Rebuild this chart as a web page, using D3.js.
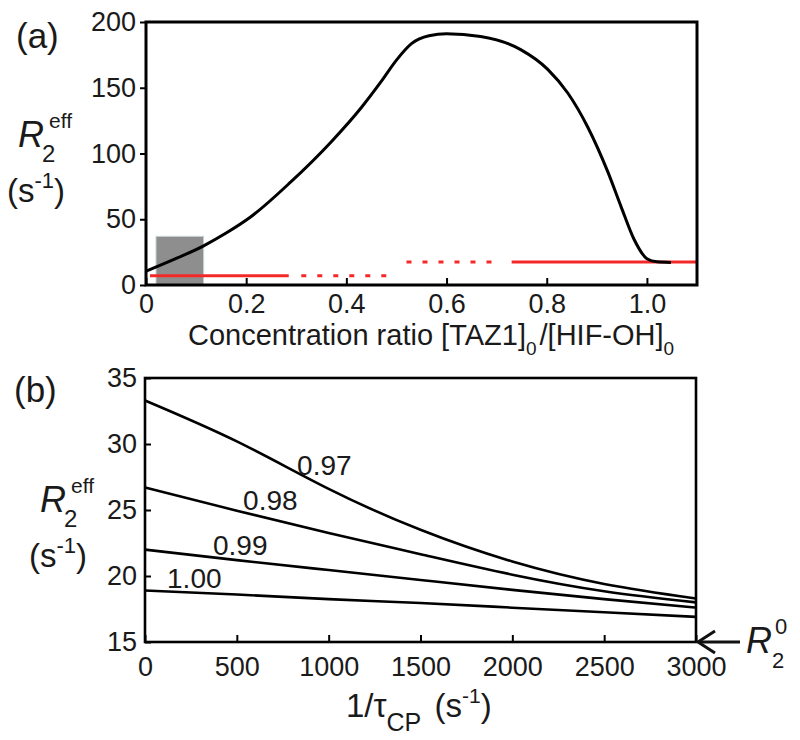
<!DOCTYPE html>
<html>
<head>
<meta charset="utf-8">
<script src="https://cdn.jsdelivr.net/npm/d3@7"></script>
<style>
  body { margin: 0; background: #fff; }
  svg text { font-family: "Liberation Sans", Arial, sans-serif; fill: #1a1a1a; }
</style>
</head>
<body>
<div id="chart"></div>
<script>
// panel (a): R2eff vs concentration ratio
const ratioX = [0.00, 0.05, 0.116, 0.16, 0.208, 0.288, 0.37, 0.43, 0.47, 0.50, 0.53, 0.565, 0.60, 0.668, 0.748, 0.802, 0.842, 0.882, 0.922, 0.948, 0.974, 1.0, 1.02, 1.048];
const ratioR2 = [10.5, 18.5, 30, 39.5, 51.5, 78, 109, 135, 155, 171, 183.5, 189.5, 191, 189, 179, 164, 146, 120, 86, 60, 35, 20, 17.6, 17.2];
const aTicksX = [0, 0.2, 0.4, 0.6, 0.8, 1.0];
const aTicksY = [0, 50, 100, 150, 200];
// shaded box and the red reference segments [x0, x1, y, dotted]
const shadeBox = { x0: 0.02, x1: 0.115, y0: 0, y1: 37 };
const redSegs = [
  [0.008, 0.285, 7, false],
  [0.31, 0.50, 7, true],
  [0.52, 0.71, 17.4, true],
  [0.73, 1.1, 17.4, false]
];

// panel (b): R2eff vs 1/tauCP for four ratios
const cpX = [0, 500, 1000, 1500, 2000, 2500, 3000];
const seriesNames = ["0.97", "0.98", "0.99", "1.00"];
const r097 = [33.3, 30.2, 26.6, 23.5, 21.1, 19.4, 18.3];
const r098 = [26.7, 24.95, 23.25, 21.65, 20.1, 18.85, 18.0];
const r099 = [22.0, 21.2, 20.45, 19.7, 18.95, 18.25, 17.6];
const r100 = [18.9, 18.6, 18.25, 17.95, 17.6, 17.25, 16.9];
// where each label sits (x, baseline y in data units)
const labelPos = [[828, 27.65], [534, 25.0], [370, 21.6], [120, 19.1]];
const bTicksX = [0, 500, 1000, 1500, 2000, 2500, 3000];
const bTicksY = [15, 20, 25, 30, 35];

const svg = d3.select("#chart").append("svg")
  .attr("width", 800)
  .attr("height", 740);

const fs = 27;

// ---------- panel (a) ----------
const xa = d3.scaleLinear().domain([0, 1.1]).range([146, 697]);
const ya = d3.scaleLinear().domain([0, 200]).range([285, 22]);

svg.append("rect")
  .attr("x", xa(shadeBox.x0)).attr("y", ya(shadeBox.y1))
  .attr("width", xa(shadeBox.x1) - xa(shadeBox.x0))
  .attr("height", ya(shadeBox.y0) - ya(shadeBox.y1))
  .attr("fill", "#8e8e8e")
  .attr("stroke", "#c4d2d4")
  .attr("stroke-width", 1);

redSegs.forEach(s => {
  svg.append("line")
    .attr("x1", xa(s[0])).attr("x2", xa(s[1]))
    .attr("y1", ya(s[2])).attr("y2", ya(s[2]))
    .attr("stroke", "#f52828")
    .attr("stroke-width", 3)
    .attr("stroke-dasharray", s[3] ? "5,11" : null);
});

const curveA = ratioX.map((x, i) => [x, ratioR2[i]]);
svg.append("path")
  .datum(curveA)
  .attr("fill", "none")
  .attr("stroke", "#000")
  .attr("stroke-width", 3)
  .attr("d", d3.line().x(d => xa(d[0])).y(d => ya(d[1])).curve(d3.curveMonotoneX));

// axes for (a)
const axA_x = svg.append("g")
  .attr("transform", `translate(0,${ya(0)})`)
  .call(d3.axisBottom(xa).tickValues(aTicksX).tickFormat(d => d === 0 ? "0" : d3.format(".1f")(d))
    .tickSize(-7).tickPadding(9));
const axA_y = svg.append("g")
  .attr("transform", `translate(${xa(0)},0)`)
  .call(d3.axisLeft(ya).tickValues(aTicksY).tickSize(6).tickPadding(4));

svg.append("rect")
  .attr("x", 146).attr("y", 22)
  .attr("width", 697 - 146).attr("height", 285 - 22)
  .attr("fill", "none").attr("stroke", "#000").attr("stroke-width", 3);

// ---------- panel (b) ----------
const xb = d3.scaleLinear().domain([0, 3000]).range([145, 696]);
const yb = d3.scaleLinear().domain([15, 35]).range([642, 378]);

const allB = [r097, r098, r099, r100];
const lineB = d3.line().x(d => xb(d[0])).y(d => yb(d[1])).curve(d3.curveNatural);
allB.forEach((vals, k) => {
  svg.append("path")
    .datum(cpX.map((x, i) => [x, vals[i]]))
    .attr("fill", "none")
    .attr("stroke", "#000")
    .attr("stroke-width", 2.6)
    .attr("d", lineB);
  svg.append("text")
    .attr("x", xb(labelPos[k][0]))
    .attr("y", yb(labelPos[k][1]))
    .style("font-size", "28px")
    .text(seriesNames[k]);
});

const axB_x = svg.append("g")
  .attr("transform", `translate(0,${yb(15)})`)
  .call(d3.axisBottom(xb).tickValues(bTicksX).tickFormat(d3.format("d")).tickSize(-7).tickPadding(15));
const axB_y = svg.append("g")
  .attr("transform", `translate(${xb(0)},0)`)
  .call(d3.axisLeft(yb).tickValues(bTicksY).tickSize(-6).tickPadding(8));

svg.append("rect")
  .attr("x", 145).attr("y", 378)
  .attr("width", 696 - 145).attr("height", 642 - 378)
  .attr("fill", "none").attr("stroke", "#000").attr("stroke-width", 2.6);

// style all axes
[axA_x, axA_y, axB_x, axB_y].forEach(g => {
  g.select(".domain").remove();
  g.selectAll(".tick line").attr("stroke", "#000").attr("stroke-width", 2);
  g.selectAll(".tick text")
    .style("font-family", '"Liberation Sans", Arial, sans-serif')
    .style("font-size", fs + "px")
    .attr("fill", "#1a1a1a");
});

// ---------- labels ----------
svg.append("text").attr("x", 16).attr("y", 48).style("font-size", "35px").text("(a)");
svg.append("text").attr("x", 14).attr("y", 402).style("font-size", "35px").text("(b)");

// R2eff y-axis labels
function r2Label(x, y) {
  const g = svg.append("g").attr("transform", `translate(${x},${y})`);
  g.append("text").attr("x", 0).attr("y", 0)
    .style("font-size", "36px").style("font-style", "italic").text("R");
  g.append("text").attr("x", 24).attr("y", 15)
    .style("font-size", "24px").text("2");
  g.append("text").attr("x", 31).attr("y", -19)
    .style("font-size", "21px").text("eff");
  const u = g.append("text").attr("x", -11).attr("y", 55).style("font-size", "33px");
  u.append("tspan").text("(s");
  u.append("tspan").attr("dy", -14).style("font-size", "22px").text("-1");
  u.append("tspan").attr("dy", 14).text(")");
}
r2Label(18, 147);
r2Label(40, 512);

// x label (a)
const xlA = svg.append("text").attr("x", 188).attr("y", 345).style("font-size", "29px");
xlA.append("tspan").text("Concentration ratio [TAZ1]");
xlA.append("tspan").attr("dy", 10).style("font-size", "19px").text("0");
xlA.append("tspan").attr("dy", -10).attr("dx", 3).text("/[HIF-OH]");
xlA.append("tspan").attr("dy", 10).style("font-size", "19px").text("0");

// x label (b)
const xlB = svg.append("text").attr("x", 346).attr("y", 717).style("font-size", "33px");
xlB.append("tspan").text("1/τ");
xlB.append("tspan").attr("dy", 14).style("font-size", "25px").text("CP");
xlB.append("tspan").attr("dy", -14).attr("dx", 4).text(" (s");
xlB.append("tspan").attr("dy", -14).style("font-size", "21px").text("-1");
xlB.append("tspan").attr("dy", 14).text(")");

// R2^0 arrow
const ay = yb(15);
svg.append("line").attr("x1", xb(3000) + 2).attr("x2", 740).attr("y1", ay).attr("y2", ay)
  .attr("stroke", "#111").attr("stroke-width", 3);
svg.append("path")
  .attr("d", `M${xb(3000) + 19},${ay - 11} L${xb(3000) + 2},${ay} L${xb(3000) + 19},${ay + 11}`)
  .attr("fill", "none").attr("stroke", "#111").attr("stroke-width", 3);
const r0 = svg.append("g").attr("transform", `translate(746,${ay + 11})`);
r0.append("text").style("font-size", "36px").style("font-style", "italic").text("R");
r0.append("text").attr("x", 26).attr("y", 15).style("font-size", "22px").text("2");
r0.append("text").attr("x", 29).attr("y", -19).style("font-size", "22px").text("0");
</script>
</body>
</html>
